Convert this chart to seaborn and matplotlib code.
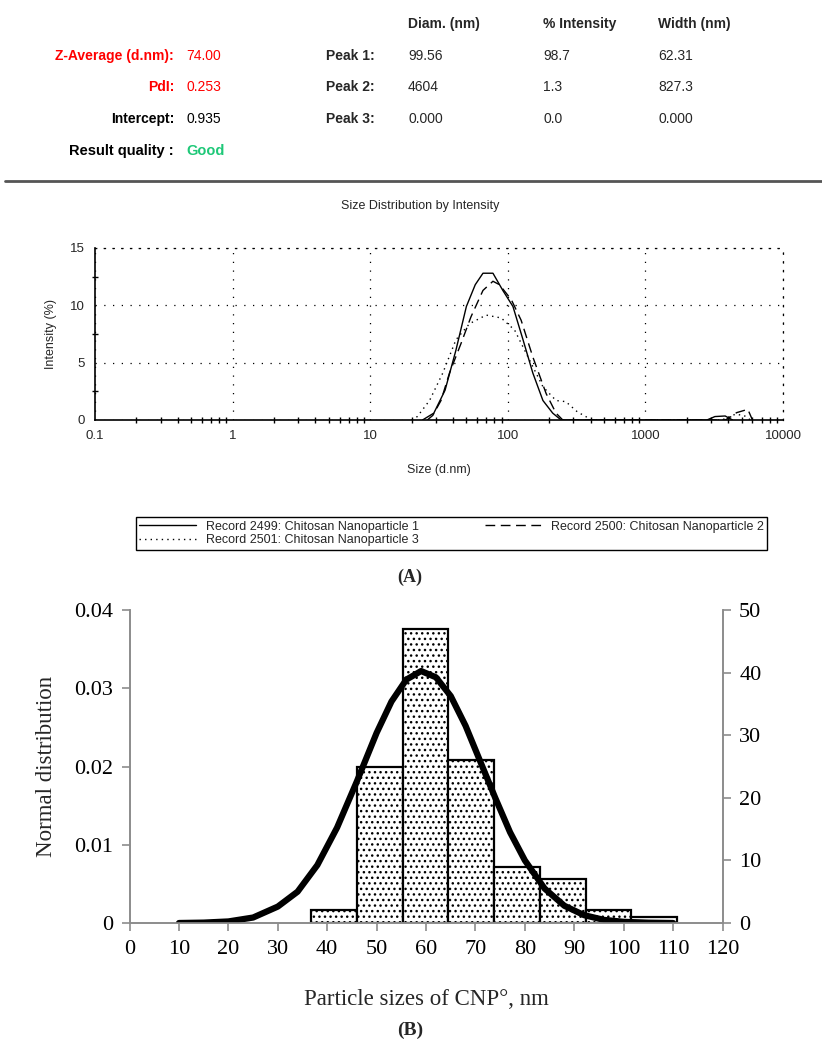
import numpy as np
import pandas as pd
import matplotlib
matplotlib.use("Agg")
import matplotlib.pyplot as plt
import seaborn as sns
from matplotlib.lines import Line2D

# ---- data: panel A (DLS size distribution by intensity) ----
rec2499_size = [24, 29, 35, 42, 50, 58, 66, 72, 78, 92, 109, 129, 152, 180, 212, 244,
                2800, 3200, 3800, 4300]
rec2499_int = [0, 0.6, 2.6, 6.1, 9.9, 11.8, 12.8, 12.8, 12.8, 11.3, 9.9, 7.0, 4.1, 1.7, 0.6, 0,
               0, 0.3, 0.35, 0]

rec2500_size = [26, 28.5, 32.7, 37.7, 45.8, 54, 66, 78, 87, 106, 125, 152, 190, 224, 251,
                3800, 4200, 4600, 5550, 6000]
rec2500_int = [0, 0.4, 1.7, 4.1, 6.7, 9.0, 11.3, 12.1, 11.8, 10.5, 8.7, 5.5, 2.3, 0.6, 0,
               0, 0.3, 0.64, 0.93, 0]

rec2501_size = [20, 22, 27, 33.7, 42, 52.7, 69.6, 89.5, 112, 152, 180, 224, 264, 321, 369, 400,
                3600, 4000, 4500, 5200, 5800]
rec2501_int = [0, 0.3, 1.7, 4.1, 7.0, 8.4, 9.15, 8.9, 7.85, 4.65, 2.9, 1.7, 1.6, 0.7, 0.3, 0,
               0, 0.25, 0.5, 0.4, 0]

record_labels = ["Record 2499: Chitosan Nanoparticle 1",
                 "Record 2500: Chitosan Nanoparticle 2",
                 "Record 2501: Chitosan Nanoparticle 3"]

x_ticks_a = [0.1, 1, 10, 100, 1000, 10000]
x_ticklabels_a = ["0.1", "1", "10", "100", "1000", "10000"]
y_ticks_a = [0, 5, 10, 15]

# result table
left_labels = ["Z-Average (d.nm):", "PdI:", "Intercept:", "Result quality :"]
left_values = ["74.00", "0.253", "0.935", "Good"]
peak_labels = ["Peak 1:", "Peak 2:", "Peak 3:"]
col_headers = ["Diam. (nm)", "% Intensity", "Width (nm)"]
peak_diam = ["99.56", "4604", "0.000"]
peak_intensity = ["98.7", "1.3", "0.0"]
peak_width = ["62.31", "827.3", "0.000"]

# ---- data: panel B (histogram + normal curve) ----
bin_edges = [36.8, 46.0, 55.3, 64.5, 73.8, 83.0, 92.3, 101.5, 110.8]
bin_counts = [2, 25, 47, 26, 9, 7, 2, 1]
curve_x = [10, 15, 20, 25, 30, 34, 38, 42, 46, 50, 53, 56, 59, 62, 65, 68, 71, 74, 77,
           80, 84, 88, 92, 96, 100, 105, 110]
curve_y = [0.0, 0.00005, 0.0002, 0.0007, 0.0021, 0.0040, 0.0074, 0.0122, 0.0181, 0.0243,
           0.0283, 0.0311, 0.0322, 0.0314, 0.0290, 0.0252, 0.0206, 0.0160, 0.0116, 0.0080,
           0.0044, 0.0022, 0.0010, 0.0004, 0.00015, 0.00004, 0.0]

sns.set_theme(style="white")
plt.rcParams["font.family"] = ["Liberation Sans", "DejaVu Sans"]
plt.rcParams["hatch.linewidth"] = 1.0
plt.rcParams["hatch.color"] = "black"

W, H = 822, 1047
fig = plt.figure(figsize=(W / 100, H / 100), dpi=100)


def ftext(x, y, s, **kw):
    fig.text(x / W, 1 - y / H, s, va="center", **kw)


# ---------------- result table ----------------
red = "#ff0000"
green = "#1ec878"
lab_colors = [red, red, "black", "black"]
val_colors = [red, red, "black", green]
rows_y = [56, 87, 119, 151]
for i in range(4):
    ftext(174, rows_y[i], left_labels[i], ha="right", fontsize=10.5 if i == 3 else 10,
          fontweight="bold", color=lab_colors[i])
    ftext(186, rows_y[i], left_values[i], ha="left", fontsize=10.5 if i == 3 else 10,
          fontweight="bold" if i == 3 else "normal", color=val_colors[i])
for i in range(3):
    ftext(375, rows_y[i], peak_labels[i], ha="right", fontsize=10, fontweight="bold")
col_x = [408, 543, 658]
for cx, hdr in zip(col_x, col_headers):
    ftext(cx, 24, hdr, ha="left", fontsize=10, fontweight="bold")
for i in range(3):
    ftext(col_x[0], rows_y[i], peak_diam[i], ha="left", fontsize=10)
    ftext(col_x[1], rows_y[i], peak_intensity[i], ha="left", fontsize=10)
    ftext(col_x[2], rows_y[i], peak_width[i], ha="left", fontsize=10)

fig.add_artist(Line2D([5 / W, 1.0], [1 - 181 / H, 1 - 181 / H], color="#555555", lw=2))

# ---------------- panel A ----------------
ftext(420, 206, "Size Distribution by Intensity", ha="center", fontsize=9)
axA = fig.add_axes([95 / W, 1 - 420 / H, (783 - 95) / W, (420 - 248) / H])
dfA = pd.concat([
    pd.DataFrame({"size": rec2499_size, "intensity": rec2499_int, "rec": record_labels[0]}),
    pd.DataFrame({"size": rec2500_size, "intensity": rec2500_int, "rec": record_labels[1]}),
    pd.DataFrame({"size": rec2501_size, "intensity": rec2501_int, "rec": record_labels[2]}),
])
styles = ["-", (0, (7, 4)), (0, (1, 3))]
handles = []
for lab, st in zip(record_labels, styles):
    sub = dfA[dfA["rec"] == lab]
    sns.lineplot(data=sub, x="size", y="intensity", ax=axA, color="black", lw=1,
                 linestyle=st, estimator=None, sort=False)
    handles.append(Line2D([], [], color="black", lw=1, linestyle=st, label=lab))
axA.set_xscale("log")
axA.set_xlim(0.1, 10000)
axA.set_ylim(0, 15)
axA.set_xticks(x_ticks_a)
axA.set_xticklabels(x_ticklabels_a)
axA.set_yticks(y_ticks_a)
axA.set_yticks([2.5, 7.5, 12.5], minor=True)
axA.tick_params(which="both", direction="inout", color="black", labelsize=9.5)
axA.tick_params(which="major", length=7, width=1)
axA.tick_params(which="minor", length=5, width=1)
axA.tick_params(axis="y", which="minor", left=True)
axA.tick_params(axis="x", which="minor", bottom=True)
axA.grid(True, which="major", color="black", lw=0.9, ls=(0, (1, 6)))
for side in ["top", "right"]:
    axA.spines[side].set_linestyle((0, (1, 6)))
    axA.spines[side].set_color("black")
    axA.spines[side].set_linewidth(0.9)
for side in ["left", "bottom"]:
    axA.spines[side].set_color("black")
    axA.spines[side].set_linewidth(1.2)
axA.set_xlabel("Size (d.nm)", fontsize=9, labelpad=16)
axA.set_ylabel("Intensity (%)", fontsize=9, labelpad=10)

leg = fig.legend([handles[0], handles[2], handles[1]],
                 [record_labels[0], record_labels[2], record_labels[1]],
                 ncol=2, loc="center", mode="expand",
                 bbox_to_anchor=(130 / W, 1 - 553 / H, 643 / W, 39 / H),
                 fontsize=9, frameon=True, fancybox=False, framealpha=1,
                 edgecolor="black", handlelength=4.5, borderpad=0.25,
                 labelspacing=0.15, columnspacing=2.0)
leg.get_frame().set_linewidth(1)

ftext(410, 577, "(A)", ha="center", fontsize=13, fontweight="bold",
      family=["Liberation Serif", "DejaVu Serif"])

# ---------------- panel B ----------------
serif = ["Liberation Serif", "DejaVu Serif"]
axB = fig.add_axes([129.6 / W, 1 - 923 / H, (722.5 - 129.6) / W, (923 - 610) / H])
axB2 = axB.twinx()
centers = [(a + b) / 2 for a, b in zip(bin_edges[:-1], bin_edges[1:])]
sns.histplot(x=centers, weights=bin_counts, bins=bin_edges, ax=axB2, stat="count",
             color="white", edgecolor="black", linewidth=1.6, hatch="...", alpha=1)
sns.lineplot(x=curve_x, y=curve_y, ax=axB, color="black", lw=4.5, sort=False,
             estimator=None, solid_capstyle="round", solid_joinstyle="round")
axB.set_zorder(axB2.get_zorder() + 1)
axB.patch.set_visible(False)

axB.set_xlim(0, 120)
axB.set_ylim(0, 0.04)
axB2.set_ylim(0, 50)
axB.set_xticks(range(0, 121, 10))
axB.set_yticks([0, 0.01, 0.02, 0.03, 0.04])
axB.set_yticklabels(["0", "0.01", "0.02", "0.03", "0.04"])
axB2.set_yticks(range(0, 51, 10))
axB2.set_ylabel("")
for a in (axB, axB2):
    for side in ["left", "right", "bottom"]:
        a.spines[side].set_color("#8c8c8c")
        a.spines[side].set_linewidth(1.2)
    a.spines["top"].set_visible(False)
    a.tick_params(direction="out", color="#8c8c8c", length=6, width=1.2, labelsize=16,
                  labelcolor="black")
    for t in a.get_xticklabels() + a.get_yticklabels():
        t.set_family(serif)
axB.tick_params(axis="y", left=True, pad=6)
axB.tick_params(axis="x", bottom=True, pad=6)
axB2.tick_params(axis="y", right=True, pad=6)
axB.set_xlabel("Particle sizes of CNP°, nm", fontsize=16.5, family=serif, labelpad=22)
axB.set_ylabel("Normal distribution", fontsize=16.5, family=serif, labelpad=12)

ftext(410, 1030, "(B)", ha="center", fontsize=14, fontweight="bold", family=serif)

fig.savefig("out.png", dpi=100)
